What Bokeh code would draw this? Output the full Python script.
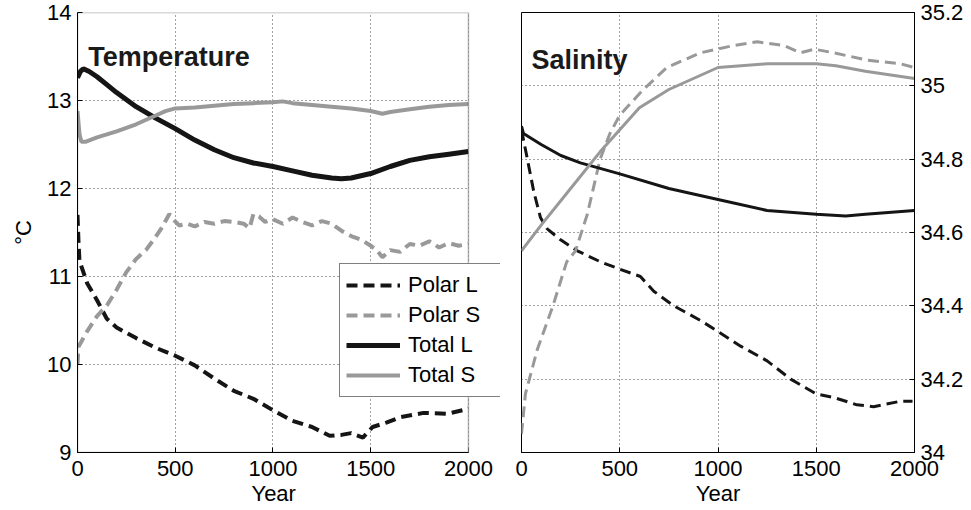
from bokeh.plotting import figure
from bokeh.models import Range1d, FixedTicker, Label, Legend, LegendItem, BoxAnnotation
from bokeh.layouts import row
from bokeh.embed import file_html
from bokeh.resources import INLINE

FONT = "Liberation Sans"
BLACK = "#151515"
GRAY = "#999999"

year_ticks = [0, 500, 1000, 1500, 2000]
temp_ticks = [9, 10, 11, 12, 13, 14]
sal_ticks = [34, 34.2, 34.4, 34.6, 34.8, 35, 35.2]
sal_tick_labels = ["34", "34.2", "34.4", "34.6", "34.8", "35", "35.2"]

# Temperature panel
t_total_l_x = [0, 15, 30, 60, 100, 150, 200, 300, 400, 500, 600, 700, 800, 900, 1000,
               1100, 1200, 1300, 1350, 1400, 1500, 1600, 1700, 1800, 1900, 2000]
t_total_l_y = [13.26, 13.33, 13.36, 13.33, 13.27, 13.18, 13.09, 12.93, 12.80, 12.68, 12.55,
               12.44, 12.35, 12.29, 12.25, 12.20, 12.15, 12.12, 12.11, 12.12, 12.17, 12.25,
               12.32, 12.36, 12.39, 12.42]

t_total_s_x = [0, 10, 20, 40, 100, 200, 300, 400, 450, 500, 600, 700, 800, 900, 1000, 1050,
               1100, 1200, 1300, 1400, 1500, 1560, 1600, 1700, 1800, 1900, 2000]
t_total_s_y = [12.88, 12.62, 12.53, 12.53, 12.58, 12.65, 12.73, 12.83, 12.88, 12.91, 12.92,
               12.94, 12.96, 12.97, 12.98, 12.99, 12.97, 12.95, 12.93, 12.91, 12.88, 12.85,
               12.87, 12.90, 12.93, 12.95, 12.96]

t_polar_s_x = [0, 5, 50, 100, 150, 200, 250, 300, 350, 400, 430, 470, 490, 520, 560, 600, 650,
               700, 750, 800, 850, 880, 900, 930, 960, 1000, 1050, 1100, 1150, 1200, 1250, 1300,
               1350, 1400, 1450, 1500, 1530, 1560, 1600, 1650, 1700, 1750, 1800, 1850, 1900,
               1950, 2000]
t_polar_s_y = [10.00, 10.20, 10.38, 10.55, 10.67, 10.85, 11.05, 11.20, 11.30, 11.45, 11.55,
               11.71, 11.65, 11.58, 11.60, 11.57, 11.62, 11.60, 11.63, 11.62, 11.60, 11.55,
               11.71, 11.68, 11.62, 11.65, 11.60, 11.67, 11.62, 11.58, 11.63, 11.60, 11.52,
               11.46, 11.42, 11.35, 11.30, 11.22, 11.30, 11.28, 11.37, 11.35, 11.40, 11.33,
               11.38, 11.35, 11.37]

t_polar_l_x = [0, 5, 10, 50, 100, 150, 200, 300, 400, 500, 600, 700, 800, 900, 1000, 1100,
               1200, 1290, 1350, 1400, 1460, 1510, 1580, 1650, 1770, 1890, 1970, 2000]
t_polar_l_y = [11.70, 11.40, 11.18, 10.92, 10.73, 10.52, 10.42, 10.30, 10.19, 10.10, 9.99,
               9.84, 9.70, 9.61, 9.48, 9.36, 9.29, 9.19, 9.20, 9.22, 9.17, 9.29, 9.34, 9.40,
               9.45, 9.44, 9.48, 9.50]

# Salinity panel
s_total_l_x = [0, 10, 100, 200, 300, 500, 750, 1000, 1250, 1500, 1650, 1750, 2000]
s_total_l_y = [34.89, 34.87, 34.84, 34.81, 34.79, 34.76, 34.72, 34.69, 34.66, 34.65, 34.645,
               34.65, 34.66]

s_total_s_x = [0, 100, 250, 400, 500, 600, 750, 1000, 1250, 1500, 1600, 1750, 2000]
s_total_s_y = [34.55, 34.62, 34.72, 34.82, 34.88, 34.94, 34.99, 35.05, 35.06, 35.06, 35.055,
               35.04, 35.02]

s_polar_s_x = [0, 20, 80, 160, 230, 275, 335, 400, 450, 500, 620, 740, 910, 1080, 1200, 1335,
               1420, 1490, 1590, 1760, 1930, 2000]
s_polar_s_y = [34.05, 34.16, 34.28, 34.40, 34.52, 34.55, 34.65, 34.80, 34.87, 34.92, 34.99,
               35.05, 35.09, 35.11, 35.12, 35.11, 35.09, 35.10, 35.09, 35.07, 35.06, 35.05]

s_polar_l_x = [0, 30, 63, 97, 131, 199, 284, 402, 500, 605, 673, 775, 911, 1000, 1115, 1250,
               1370, 1500, 1590, 1707, 1792, 1930, 1990]
s_polar_l_y = [34.88, 34.80, 34.71, 34.64, 34.61, 34.58, 34.55, 34.52, 34.50, 34.48, 34.44,
               34.40, 34.36, 34.33, 34.29, 34.25, 34.20, 34.16, 34.15, 34.13, 34.125, 34.14,
               34.14]

legend_labels = ["Polar L", "Polar S", "Total L", "Total S"]
DASH = "11 6"
YEAR_MIN, YEAR_MAX = 0, 2000


def style(p, yaxis):
    p.background_fill_color = "white"
    p.border_fill_color = "white"
    p.xaxis.ticker = FixedTicker(ticks=year_ticks)
    for ax in [p.xaxis[0], yaxis]:
        ax.major_label_text_font = FONT
        ax.major_label_text_font_size = "22px"
        ax.major_label_text_color = "black"
        ax.axis_label_text_font = FONT
        ax.axis_label_text_font_size = "22px"
        ax.axis_label_text_font_style = "normal"
        ax.axis_label_text_color = "black"
        ax.major_tick_in = 5
        ax.major_tick_out = 0
        ax.minor_tick_in = 0
        ax.minor_tick_out = 0
        ax.axis_line_color = "black"
        ax.major_tick_line_color = "black"
    p.xaxis.axis_label = "Year"
    p.xaxis.major_label_standoff = 8
    p.xaxis.axis_label_standoff = 2
    for g in [p.xgrid[0], p.ygrid[0]]:
        g.grid_line_color = "#333333"
        g.grid_line_dash = "1 3"
        g.grid_line_width = 1
        g.grid_line_alpha = 0.9


# ---------- Temperature ----------
# frame extends a little beyond year 2000 so the legend can overhang the panel edge
p1 = figure(width=500, height=510, output_backend="svg", toolbar_location=None,
            x_range=Range1d(0, 2164), y_range=Range1d(9, 14),
            min_border_left=77, min_border_right=0, min_border_top=12, min_border_bottom=58)
style(p1, p1.yaxis[0])
p1.outline_line_color = None
p1.xaxis.bounds = (YEAR_MIN, YEAR_MAX)
# pad so the label centres under the visible panel (0..2000) rather than the wider frame
p1.xaxis.axis_label = "Year" + "\u00a0" * 5
p1.yaxis.ticker = FixedTicker(ticks=temp_ticks)
p1.yaxis.axis_label = "°C"
p1.yaxis.major_label_standoff = 6
p1.yaxis.axis_label_standoff = 8

r_pl = p1.line(t_polar_l_x, t_polar_l_y, line_color=BLACK, line_width=4, line_dash=DASH)
r_ps = p1.line(t_polar_s_x, t_polar_s_y, line_color=GRAY, line_width=4, line_dash=DASH)
r_tl = p1.line(t_total_l_x, t_total_l_y, line_color=BLACK, line_width=5)
r_ts = p1.line(t_total_s_x, t_total_s_y, line_color=GRAY, line_width=4)

# blank the area right of the panel and draw the panel box
p1.add_layout(BoxAnnotation(left=YEAR_MAX, fill_color="white", fill_alpha=1,
                            line_color=None, level="annotation"))
p1.add_layout(BoxAnnotation(left=YEAR_MIN, right=YEAR_MAX, bottom=9, top=14, fill_alpha=0,
                            line_color="black", line_width=1.5, level="annotation"))

p1.add_layout(Label(x=55, y=13.49, text="Temperature", text_font=FONT, text_font_size="27px",
                    text_font_style="bold", text_color="#1a1a1a", text_baseline="alphabetic"))

legend = Legend(items=[LegendItem(label=lab, renderers=[r]) for lab, r in
                       zip(legend_labels, [r_pl, r_ps, r_tl, r_ts])],
                location=(262, 55), orientation="vertical", level="overlay")
legend.label_text_font = FONT
legend.label_text_font_size = "22px"
legend.label_text_color = "black"
legend.glyph_width = 54
legend.glyph_height = 30
legend.label_height = 30
legend.label_width = 86
legend.label_standoff = 8
legend.spacing = 0
legend.padding = 6
legend.margin = 0
legend.border_line_color = "black"
legend.border_line_width = 1
legend.background_fill_alpha = 1
p1.add_layout(legend, "center")

# ---------- Salinity ----------
p2 = figure(width=471, height=510, output_backend="svg", toolbar_location=None,
            x_range=Range1d(0, 2000), y_range=Range1d(34, 35.2), y_axis_location="right",
            min_border_left=21, min_border_right=57, min_border_top=12, min_border_bottom=58)
style(p2, p2.yaxis[0])
p2.outline_line_color = "black"
p2.outline_line_width = 1
p2.yaxis.ticker = FixedTicker(ticks=sal_ticks)
p2.yaxis.major_label_overrides = dict(zip(sal_ticks, sal_tick_labels))
p2.yaxis.major_label_standoff = 6

p2.line(s_polar_l_x, s_polar_l_y, line_color=BLACK, line_width=3, line_dash=DASH)
p2.line(s_polar_s_x, s_polar_s_y, line_color=GRAY, line_width=3, line_dash=DASH)
p2.line(s_total_l_x, s_total_l_y, line_color=BLACK, line_width=3)
p2.line(s_total_s_x, s_total_s_y, line_color=GRAY, line_width=3)

p2.add_layout(Label(x=51, y=35.07, text="Salinity", text_font=FONT, text_font_size="27px",
                    text_font_style="bold", text_color="#1a1a1a", text_baseline="alphabetic"))

layout = row(p1, p2)
open("out.html", "w").write(file_html(layout, INLINE))
